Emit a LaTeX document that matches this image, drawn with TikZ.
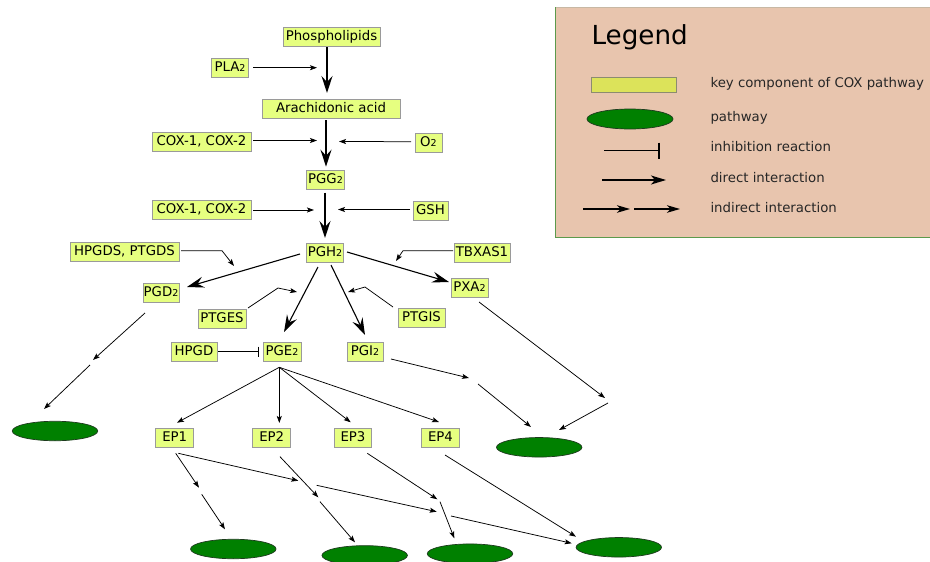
\documentclass[tikz,border=0pt]{standalone}
\usepackage{fontspec}
\setmainfont{DejaVu Sans}
\usetikzlibrary{arrows.meta,shapes.geometric,calc}
\definecolor{boxfill}{HTML}{E6FF80}
\definecolor{boxline}{HTML}{9A9A9A}
\definecolor{keyfill}{HTML}{DCE35A}
\definecolor{keyline}{HTML}{8C8C70}
\definecolor{pathfill}{HTML}{008000}
\definecolor{pathline}{HTML}{1E3A1E}
\definecolor{legendbg}{HTML}{E8C5AE}
\definecolor{legendedge}{HTML}{5C9A4C}
\definecolor{legendtop}{HTML}{C8B8A4}
\newcommand\subtwo{\raisebox{-0.4pt}{\fontsize{9.5}{9.5}\selectfont 2}}
\tikzset{
  comp/.style={draw=boxline, fill=boxfill, line width=1pt, inner xsep=0pt, inner ysep=0pt,
    minimum height=19pt, text height=9.6pt, text depth=2.6pt,
    font=\fontsize{13.3}{15}\selectfont},
  pathway/.style={ellipse, draw=pathline, fill=pathfill, line width=0.7pt,
    minimum width=85.5pt, minimum height=19.5pt, inner sep=0pt},
  minorarrow/.style={line width=0.75pt, -{Stealth[length=7pt,width=5pt,inset=1.5pt]}},
  majorarrow/.style={line width=1.1pt, -{Stealth[length=17pt,width=11pt,inset=6pt]}},
  legendtext/.style={anchor=base west, font=\fontsize{13.3}{15}\selectfont, text=black!85},
}
\begin{document}
\begin{tikzpicture}[x=1pt,y=-1pt]
\useasboundingbox (0,0) rectangle (930,562);

% ---------- legend panel ----------
\fill[legendbg] (555,7) rectangle (935,237);
\draw[legendtop, line width=0.8pt] (555,7) -- (935,7);
\draw[legendedge, line width=1pt] (555.5,7) -- (555.5,237) -- (935,237);
\node[anchor=base west, font=\fontsize{26.2}{28}\selectfont] (lgtitle) at (588,45) {Legend};
\node[draw=keyline, fill=keyfill, line width=1pt, minimum width=85pt, minimum height=15pt, inner sep=0pt] (lgkey) at (633.5,84.5) {};
\node[pathway, minimum width=86pt, minimum height=20pt] (lgpath) at (630,119) {};
\coordinate (lginhA) at (604,150.5);
\coordinate (lginhB) at (659,150.5);
\draw[line width=1.6pt] (lginhA) -- (lginhB);
\draw[line width=1.6pt] ($(lginhB)+(0,-8)$) -- ($(lginhB)+(0,8)$);
\coordinate (lgdirA) at (602,180);
\coordinate (lgdirB) at (666,180);
\draw[line width=1.4pt, -{Stealth[length=15pt,width=9pt,inset=4pt]}] (lgdirA) -- (lgdirB);
\coordinate (lgindA) at (583,209);
\coordinate (lgindB) at (630,209);
\coordinate (lgindC) at (634,209);
\coordinate (lgindD) at (680,209);
\draw[line width=1.4pt, -{Stealth[length=13pt,width=7.5pt,inset=3.5pt]}] (lgindA) -- (lgindB);
\draw[line width=1.4pt, -{Stealth[length=13pt,width=7.5pt,inset=3.5pt]}] (lgindC) -- (lgindD);
\node[legendtext] (lgt1) at (707,87.5) {key component of COX pathway};
\node[legendtext] (lgt2) at (707,121.5) {pathway};
\node[legendtext] (lgt3) at (707,151.5) {inhibition reaction};
\node[legendtext] (lgt4) at (707,182) {direct interaction};
\node[legendtext] (lgt5) at (707,212) {indirect interaction};

% ---------- components ----------
\node[comp, minimum width=97pt]  (phos)  at (331.5,36.5) {Phospholipids};
\node[comp, minimum width=37pt]  (pla)   at (230,67.5)   {PLA\subtwo};
\node[comp, minimum width=138pt] (arach) at (331,109)    {Arachidonic acid};
\node[comp, minimum width=99pt]  (cox1)  at (201.5,141.5) {COX-1, COX-2};
\node[comp, minimum width=27pt]  (o2)    at (428.5,142.5) {O\subtwo};
\node[comp, minimum width=38pt]  (pgg)   at (325.5,180)  {PGG\subtwo};
\node[comp, minimum width=99pt]  (cox2)  at (201.5,210)  {COX-1, COX-2};
\node[comp, minimum width=35pt]  (gsh)   at (430.5,211)  {GSH};
\node[comp, minimum width=37pt]  (pgh)   at (325,252.5)  {PGH\subtwo};
\node[comp, minimum width=109pt] (hpgds) at (124.5,252)  {HPGDS, PTGDS};
\node[comp, minimum width=56pt]  (tbxas) at (482,253)    {TBXAS1};
\node[comp, minimum width=36pt]  (pgd)   at (161,292.5)  {PGD\subtwo};
\node[comp, minimum width=37pt]  (pxa)   at (469.5,287.5) {PXA\subtwo};
\node[comp, minimum width=48pt]  (ptges) at (222,318.5)  {PTGES};
\node[comp, minimum width=47pt]  (ptgis) at (421.5,318)  {PTGIS};
\node[comp, minimum width=46pt]  (hpgd)  at (194,351.5)  {HPGD};
\node[comp, minimum width=38pt]  (pge)   at (282,351.5)  {PGE\subtwo};
\node[comp, minimum width=36pt]  (pgi)   at (365,352)    {PGI\subtwo};
\node[comp, minimum width=37.5pt] (ep1)  at (174.7,437.8) {EP1};
\node[comp, minimum width=37.5pt] (ep2)  at (271.7,437.8) {EP2};
\node[comp, minimum width=37.5pt] (ep3)  at (353,437.8)  {EP3};
\node[comp, minimum width=37.5pt] (ep4)  at (440.5,438.3) {EP4};

% ---------- pathways ----------
\node[pathway] (e1) at (55,431)      {};
\node[pathway] (e2) at (539.2,447.3) {};
\node[pathway] (e3) at (233.3,549)   {};
\node[pathway] (e4) at (364.7,555.4) {};
\node[pathway] (e5) at (470,553.7)   {};
\node[pathway] (e6) at (618.8,547.3) {};

% ---------- main cascade ----------
\draw[majorarrow, line width=1.5pt] ($(phos)+(-4.5,10.5)$) -- ($(arach)+(-4,-16)$);
\draw[majorarrow, line width=1.5pt] ($(arach)+(-5,11)$) -- ($(pgg)+(0.5,-13.3)$);
\draw[majorarrow, line width=1.5pt] ($(pgg)+(-0.5,12.7)$) -- ($(pgh)+(0,-14.5)$);
\draw[majorarrow] ($(pgh)+(-25,1.5)$) -- ($(pgd)+(26,-5.5)$);
\draw[majorarrow] ($(pgh)+(22,-0.5)$) -- ($(pxa)+(-20.5,-5.5)$);
\draw[majorarrow] ($(pgh)+(-7,14.5)$) -- ($(pge)+(2,-19.5)$);
\draw[majorarrow] ($(pgh)+(6,12.5)$) -- ($(pgi)+(0,-17)$);

% ---------- enzymes and cofactors ----------
\coordinate (plaT) at (317,67.7);
\draw[minorarrow] ($(pla)+(23,0.2)$) -- (plaT);
\coordinate (cox1T) at (317,140.5);
\draw[minorarrow] ($(cox1)+(51.5,-1)$) -- (cox1T);
\coordinate (o2T) at (339,141.5);
\draw[minorarrow] ($(o2)+(-17.5,-0.8)$) -- (o2T);
\coordinate (cox2T) at (314,210);
\draw[minorarrow] ($(cox2)+(51.5,0)$) -- (cox2T);
\coordinate (gshT) at (338,209.5);
\draw[minorarrow] ($(gsh)+(-20.5,-1.5)$) -- (gshT);
\coordinate (hpgdsK) at (222,250.7);
\coordinate (hpgdsT) at (234,266);
\draw[minorarrow] ($(hpgds)+(56.5,-1.3)$) -- (hpgdsK) -- (hpgdsT);
\coordinate (tbxasK) at (403,250.7);
\coordinate (tbxasT) at (396,261);
\draw[minorarrow] ($(tbxas)+(-29,-2.3)$) -- (tbxasK) -- (tbxasT);
\coordinate (ptgesK) at (278,288);
\coordinate (ptgesT) at (297,292);
\draw[minorarrow] ($(ptges)+(26,-10.5)$) -- (ptgesK) -- (ptgesT);
\coordinate (ptgisK) at (365,287);
\coordinate (ptgisT) at (348,292);
\draw[minorarrow] ($(ptgis)+(-28.5,-11)$) -- (ptgisK) -- (ptgisT);
\coordinate (hpgdA) at ($(hpgd)+(24,0.2)$);
\coordinate (hpgdB) at ($(pge)+(-23.5,0.2)$);
\draw[line width=0.8pt] (hpgdA) -- (hpgdB);
\draw[line width=0.9pt] ($(hpgdB)+(0,-5)$) -- ($(hpgdB)+(0,5)$);

% ---------- prostanoids to pathways ----------
\coordinate (pgdT) at (93,360);
\coordinate (pgdS) at (90,365);
\draw[minorarrow] ($(pgd)+(-16,20.5)$) -- (pgdT);
\draw[minorarrow] (pgdS) -- ($(e1)+(-11,-22)$);

\coordinate (pgiT) at (469,378);
\coordinate (pgiS) at (478,384);
\draw[minorarrow] ($(pgi)+(26,7)$) -- (pgiT);
\draw[minorarrow] (pgiS) -- ($(e2)+(-8.2,-20.3)$);

\coordinate (pxaT) at (605,398);
\coordinate (pxaS) at (608,403);
\draw[minorarrow] ($(pxa)+(9.5,14.5)$) -- (pxaT);
\draw[minorarrow] (pxaS) -- ($(e2)+(19.8,-17.3)$);

% ---------- PGE2 receptors ----------
\coordinate (hub) at ($(pge)+(-2.7,15.8)$);
\draw[minorarrow] (hub) -- ($(ep1)+(2.3,-15.1)$);
\draw[minorarrow] (hub) -- ($(ep2)+(7.6,-14.8)$);
\draw[minorarrow] (hub) -- ($(ep3)+(-2.3,-15.5)$);
\draw[minorarrow] (hub) -- ($(ep4)+(-1.5,-16.3)$);

% ---------- receptors to pathways ----------
\coordinate (ep1aT) at (199,487.7);
\coordinate (ep1aS) at (201.7,494.3);
\draw[minorarrow] ($(ep1)+(1,15.5)$) -- (ep1aT);
\draw[minorarrow] (ep1aS) -- ($(e3)+(-8.3,-19.7)$);

\coordinate (ep1bT) at (298.3,480.7);
\coordinate (ep1bS) at (316.7,485.3);
\coordinate (ep1cT) at (436.7,511.7);
\coordinate (ep1cS) at (451,516);
\draw[minorarrow] ($(ep1)+(3.6,15.5)$) -- (ep1bT);
\draw[minorarrow] (ep1bS) -- (ep1cT);
\draw[minorarrow] (ep1cS) -- ($(e6)+(-47.1,-4)$);

\coordinate (ep2T) at (318.3,497.3);
\coordinate (ep2S) at (320,501.7);
\draw[minorarrow] ($(ep2)+(8.3,18.9)$) -- (ep2T);
\draw[minorarrow] (ep2S) -- ($(e4)+(-9.7,-13.1)$);

\coordinate (ep3T) at (437.3,499.3);
\coordinate (ep3S) at (440,501.7);
\draw[minorarrow] ($(ep3)+(14.3,15.5)$) -- (ep3T);
\draw[minorarrow] (ep3S) -- ($(e5)+(-15.7,-15.4)$);

\draw[minorarrow] ($(ep4)+(4.5,16.7)$) -- ($(e6)+(-42.8,-10.6)$);
\end{tikzpicture}
\end{document}
